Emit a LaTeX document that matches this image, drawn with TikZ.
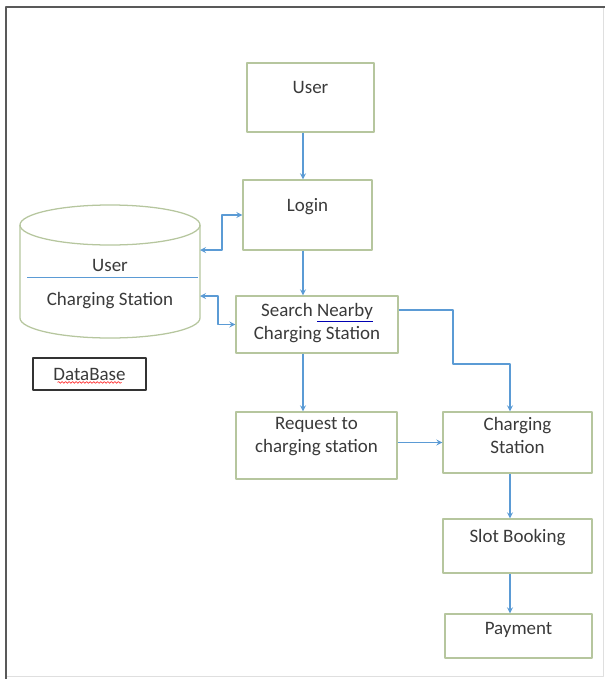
\documentclass[tikz,border=0pt]{standalone}
\usepackage{fontspec}
\setmainfont{Carlito}
\usetikzlibrary{decorations.pathmorphing}
\definecolor{boxgreen}{RGB}{182,198,158}
\definecolor{arrowblue}{RGB}{91,155,213}
\definecolor{textgray}{RGB}{58,58,58}
\newcommand{\grammarline}[1]{\textcolor{blue!70!black}{\underline{\textcolor{textgray}{#1}}}}
\begin{document}
\begin{tikzpicture}[font=\fontsize{13.5}{16.4}\selectfont, line join=round, >=stealth,
	stepbox/.style={draw=boxgreen, line width=0.9pt, align=center, inner sep=0pt, text=textgray, text height=10pt},
	twoline/.style={text height=26.4pt},
	arr/.style={->, draw=arrowblue, line width=0.9pt},
	arrboth/.style={<->, draw=arrowblue, line width=0.9pt}]
			\useasboundingbox (0,0) rectangle (15.125,-16.975);
			% page frame
			\draw[gray!25, line width=0.6pt] (0.15,-0.175) -- (15.075,-0.175) -- (15.075,-16.9) -- (0.15,-16.9);
			\draw[black!65, line width=2pt] (0.15,-16.975) -- (0.15,-0.175) -- (15.125,-0.175);
			% spines for the vertical arrows
			\coordinate (spine) at (7.575,0);
			\coordinate (rspine) at (12.75,0);
			% boxes
			\node[stepbox, minimum width=3.175cm, minimum height=1.725cm, text depth=15pt] (user) at (7.7625,-2.4375) {User};
			\node[stepbox, minimum width=3.225cm, minimum height=1.75cm, text depth=14.4pt] (login) at (7.6875,-5.375) {Login};
			\node[stepbox, twoline, minimum width=4.05cm, minimum height=1.425cm, text depth=5pt] (search) at (7.925,-8.1125) {Search \grammarline{Nearby}\\Charging Station};
			\node[stepbox, twoline, minimum width=4.025cm, minimum height=1.675cm, text depth=16.4pt] (request) at (7.9125,-11.1375) {Request to\\charging station};
			\node[stepbox, twoline, minimum width=3.725cm, minimum height=1.525cm, text depth=10.8pt] (charging) at (12.9375,-11.0625) {Charging\\Station};
			\node[stepbox, minimum width=3.725cm, minimum height=1.35cm, text depth=14.4pt] (slot) at (12.9375,-13.65) {Slot Booking};
			\node[stepbox, minimum width=3.675cm, minimum height=1.1cm, text depth=12pt] (payment) at (12.9625,-15.9) {Payment};
			% database cylinder
			\draw[boxgreen, line width=0.9pt] (0.5,-5.625) -- (0.5,-7.95) arc (180:360:2.25 and 0.5) -- (5.0,-5.625);
			\draw[boxgreen, line width=0.9pt] (2.75,-5.625) ellipse (2.25 and 0.5);
			\draw[arrowblue, line width=0.7pt] (0.675,-6.925) -- (4.95,-6.925);
			\node[anchor=base, text=textgray] (dbuser) at (2.75,-6.775) {User};
			\node[anchor=base, text=textgray] (dbstation) at (2.75,-7.625) {Charging Station};
			\coordinate (dbtop) at (5.0,-6.25);
			\coordinate (dbbottom) at (5.0,-7.4);
			\node[draw=black!80, line width=1pt, minimum width=2.825cm, minimum height=0.8cm, inner sep=0pt, text=textgray] (dbkey) at (2.2375,-9.35) {DataBase};
			\draw[red!80, line width=0.5pt, decorate, decoration={snake, segment length=2.5pt, amplitude=0.6pt}] ([xshift=-0.8cm,yshift=-0.21cm]dbkey.center) -- ([xshift=0.8cm,yshift=-0.21cm]dbkey.center);
			% connectors
			\draw[arr] (user.south -| spine) -- (login.north -| spine);
			\draw[arr] (login.south -| spine) -- (search.north -| spine);
			\draw[arr] (search.south -| spine) -- (request.north -| spine);
			\draw[arrboth] (dbtop) -- (5.55,-6.25) |- (login.west);
			\draw[arrboth] (dbbottom) -- (5.45,-7.4) |- (search.west);
			\draw[arr] (search.east |- 0,-7.75) -- (11.325,-7.75) -- (11.325,-9.1) -| (charging.north -| rspine);
			\draw[arr] (request.east |- charging.west) -- (charging.west);
			\draw[arr] (charging.south -| rspine) -- (slot.north -| rspine);
			\draw[arr] (slot.south -| rspine) -- (payment.north -| rspine);
\end{tikzpicture}
\end{document}
